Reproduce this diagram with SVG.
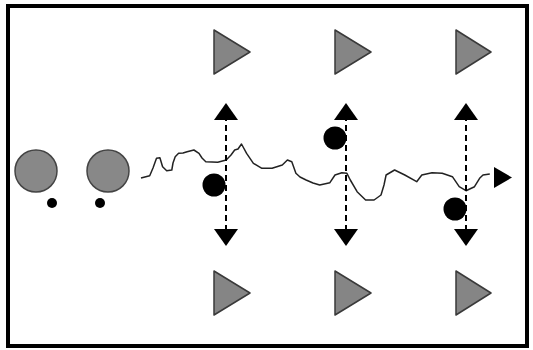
<svg xmlns="http://www.w3.org/2000/svg" width="533" height="350" viewBox="0 0 533 350">
<style>
.tri{fill:#858585;stroke:#3a3a3a;stroke-width:1.5;stroke-linejoin:round}
.big{fill:#888;stroke:#444;stroke-width:1.5}
.dot{fill:#000}
.dash{stroke:#000;stroke-width:2;stroke-dasharray:6 4;fill:none}
.wave{fill:none;stroke:#222;stroke-width:1.5;stroke-linejoin:round}
.head{fill:#000}
</style>
<rect x="0" y="0" width="533" height="350" fill="#fff"/>
<rect x="8" y="6" width="519" height="340" fill="none" stroke="#000" stroke-width="4"/>
<g id="source1"><circle class="big" cx="36" cy="171" r="21"/><circle class="dot" cx="52" cy="203" r="5"/></g>
<g id="source2"><circle class="big" cx="108" cy="171" r="21"/><circle class="dot" cx="100" cy="203" r="5"/></g>
<g id="top1"><polygon class="tri" points="214,30 250,52 214,74"/></g>
<g id="top2"><polygon class="tri" points="335,30 371,52 335,74"/></g>
<g id="top3"><polygon class="tri" points="456,30 491,52 456,74"/></g>
<g id="bot1"><polygon class="tri" points="214,271 250,293 214,315"/></g>
<g id="bot2"><polygon class="tri" points="335,271 371,293 335,315"/></g>
<g id="bot3"><polygon class="tri" points="456,271 491,293 456,315"/></g>
<g id="particle1"><circle class="dot" cx="214" cy="185" r="11.5"/></g>
<g id="particle2"><circle class="dot" cx="335" cy="138" r="11.5"/></g>
<g id="particle3"><circle class="dot" cx="455" cy="209" r="11.5"/></g>
<g id="connectors">
<path class="wave" d="M141,178 L149.7,175.7 L153,168 L156.5,158.3 L159.9,157.7 L162.6,166.7 L166.7,170.7 L171.8,170 L173,163 L175.2,156.7 L178.6,153.3 L183,153 L187.1,151.7 L193.9,150 L199,153.3 L202,158 L205.8,161.7 L212,162 L217.7,162.3 L226.2,160 L231,155 L234.7,150 L238,149 L241.5,144 L246.6,153.3 L253.4,163.3 L261.9,168.3 L272.1,168.3 L282.3,165 L287.4,160 L291.8,161.7 L295.9,173.3 L300,177 L306.1,180 L313,183 L319.7,185 L329.9,182.7 L335,175 L341.8,172.7 L346.9,173.3 L350.3,180 L357.1,191.7 L365.6,200 L374.1,200 L381,195 L384,185 L386.1,175 L394.6,170 L404.8,175 L416.7,181.7 L421.8,175 L432,172.7 L442.2,173.3 L452.4,176.7 L459.2,186.7 L466,190.7 L474.5,186.7 L479.6,178.3 L483,175 L489.8,174"/>
<polygon class="head" points="494,167 512,177.5 494,188"/>
<line class="dash" x1="226" y1="115" x2="226" y2="234"/>
<polygon class="head" points="214,120 226,103 238,120"/>
<polygon class="head" points="214,229 226,246 238,229"/>
<line class="dash" x1="346" y1="115" x2="346" y2="234"/>
<polygon class="head" points="334,120 346,103 358,120"/>
<polygon class="head" points="334,229 346,246 358,229"/>
<line class="dash" x1="466" y1="115" x2="466" y2="234"/>
<polygon class="head" points="454,120 466,103 478,120"/>
<polygon class="head" points="454,229 466,246 478,229"/>
</g>
</svg>
